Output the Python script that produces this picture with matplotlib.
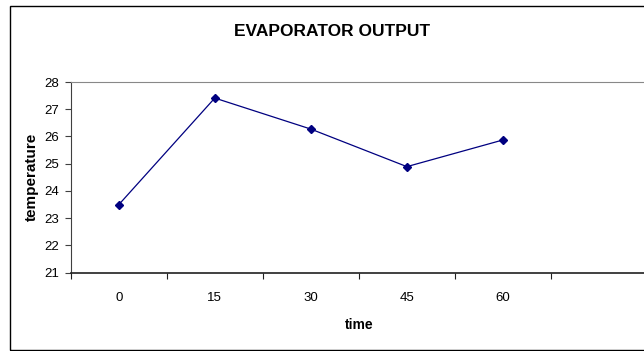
import matplotlib
matplotlib.use('Agg')
import matplotlib.pyplot as plt
from matplotlib.patches import Rectangle

# data
times = ['0', '15', '30', '45', '60']
temperature = [23.49, 27.41, 26.27, 24.89, 25.87]
n_slots = 6  # Excel category axis has one empty slot on the right

plt.rcParams['font.family'] = ['Liberation Sans', 'DejaVu Sans']

fig = plt.figure(figsize=(6.44, 3.51), dpi=100)
fig.patch.set_facecolor('white')

# outer chart border (right side runs off the image)
fig.patches.append(Rectangle((9.5 / 644, 1 - 349.5 / 351), 1.1, (349.5 - 5.5) / 351,
                             transform=fig.transFigure, fill=False,
                             edgecolor='black', linewidth=1.0))

ax = fig.add_axes([70.7 / 644, 1 - 272.5 / 351, (647 - 70.7) / 644, (272.5 - 82) / 351])
ax.set_facecolor('white')

x = list(range(len(times)))
ax.plot(x, temperature, color='#000080', linewidth=0.9, marker='D',
        markersize=4.5, markerfacecolor='#000080', markeredgecolor='#000080')

ax.set_xlim(-0.5, n_slots - 0.5)
ax.set_ylim(21, 28)
ax.set_yticks(range(21, 29))

# ticks on category boundaries, labels centred in the slots
ax.set_xticks([i - 0.5 for i in range(n_slots + 1)])
ax.set_xticklabels([])
ax.set_xticks(x, minor=True)
ax.set_xticklabels(times, minor=True)
ax.tick_params(axis='x', which='major', direction='out', length=4, width=0.8, color='#202020')
ax.tick_params(axis='x', which='minor', length=0, pad=14, labelsize=9.5)
ax.tick_params(axis='y', direction='out', length=4, width=0.8, color='#404040', pad=4.5,
               labelsize=9.5)

ax.spines['right'].set_visible(False)
ax.spines['top'].set_color('#888888')
ax.spines['left'].set_color('#404040')
ax.spines['bottom'].set_color('#202020')
ax.spines['bottom'].set_linewidth(1.2)

ax.set_xlabel('time', fontsize=10, fontweight='bold', labelpad=10)
ax.set_ylabel('temperature', fontsize=11, fontweight='bold', labelpad=4)

fig.text(331.7 / 644, 1 - 31.5 / 351, 'EVAPORATOR OUTPUT', ha='center', va='center',
         fontsize=12.5, fontweight='bold')

plt.savefig('out.png', dpi=100)
